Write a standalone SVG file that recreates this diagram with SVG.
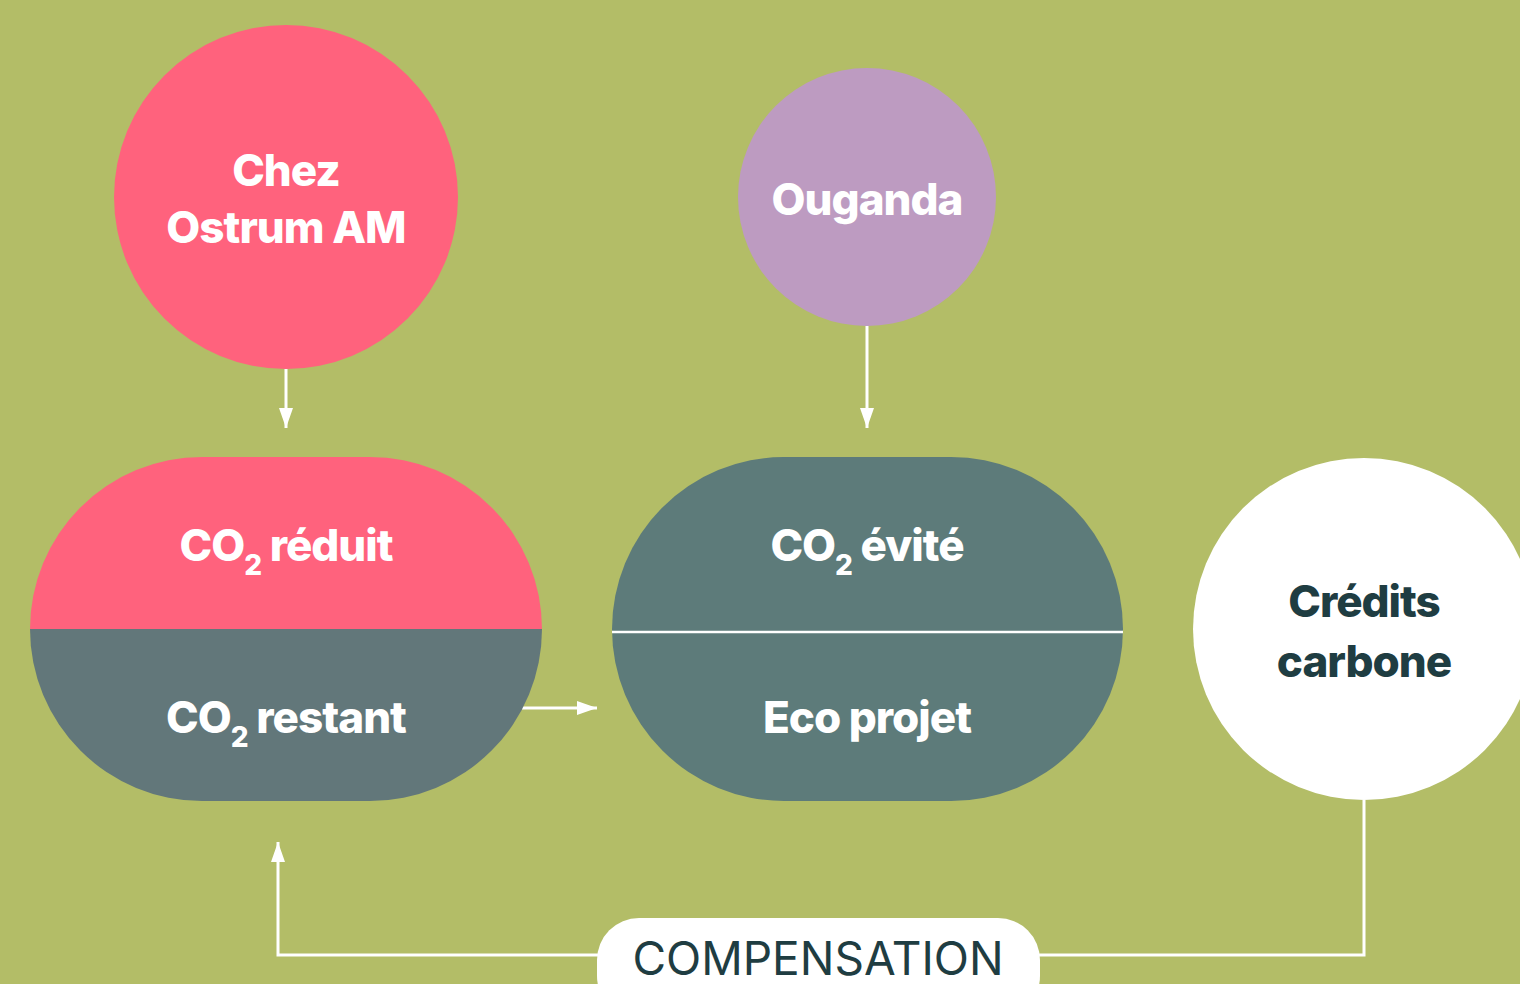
<svg xmlns="http://www.w3.org/2000/svg" width="1520" height="984" viewBox="0 0 1520 984">
<defs>
<style>
.t{font-family:Inter,"Liberation Sans",sans-serif;font-weight:800;font-size:44px;fill:#ffffff;text-anchor:middle;letter-spacing:-1px}
.d{fill:#1f3d42}
.c{fill:none;stroke:#ffffff;stroke-width:3}
.sub{font-size:28px}
</style>
<marker id="av" viewBox="0 0 20 14" refX="20" refY="7" markerWidth="20" markerHeight="14" markerUnits="userSpaceOnUse" orient="auto"><path d="M0,0 L20,7 L0,14 Z" fill="#ffffff"/></marker>
<clipPath id="cl"><rect x="30" y="457" width="512" height="344" rx="172"/></clipPath>
</defs>
<rect width="1520" height="984" fill="#b3bd67"/>
<g id="connectors">
<line class="c" x1="286" y1="369" x2="286" y2="428" marker-end="url(#av)"/>
<line class="c" x1="867" y1="326" x2="867" y2="428" marker-end="url(#av)"/>
<line class="c" x1="522" y1="708" x2="597" y2="708" marker-end="url(#av)"/>
<polyline class="c" points="1364,800 1364,955 278,955 278,842" marker-end="url(#av)"/>
</g>
<g id="chez">
<circle cx="286" cy="197" r="172" fill="#ff627d"/>
<text class="t" x="286" y="186">Chez</text>
<text class="t" x="286" y="243">Ostrum AM</text>
</g>
<g id="ouganda">
<circle cx="867" cy="197" r="129" fill="#bd9bc1"/>
<text class="t" x="867" y="215">Ouganda</text>
</g>
<g id="co2-reduit">
<g clip-path="url(#cl)">
<rect x="30" y="457" width="512" height="172" fill="#ff627d"/>
<rect x="30" y="629" width="512" height="172" fill="#62777a"/>
</g>
<text class="t" x="286" y="561">CO<tspan class="sub" dy="14">2</tspan><tspan dy="-14"> réduit</tspan></text>
<text class="t" x="286" y="733">CO<tspan class="sub" dy="14">2</tspan><tspan dy="-14"> restant</tspan></text>
</g>
<g id="co2-evite">
<rect x="612" y="457" width="511" height="344" rx="172" fill="#5d7b7a"/>
<line x1="612" y1="632" x2="1123" y2="632" stroke="#ffffff" stroke-width="2.5"/>
<text class="t" x="867" y="561">CO<tspan class="sub" dy="14">2</tspan><tspan dy="-14"> évité</tspan></text>
<text class="t" x="867" y="733">Eco projet</text>
</g>
<g id="credits">
<circle cx="1364" cy="629" r="171" fill="#ffffff"/>
<text class="t d" x="1364" y="617">Crédits</text>
<text class="t d" x="1364" y="677">carbone</text>
</g>
<g id="compensation">
<rect x="597" y="918" width="443" height="100" rx="42" fill="#ffffff"/>
<text x="818" y="975" text-anchor="middle" font-family="Inter,'Liberation Sans',sans-serif" font-size="46" fill="#1f3d42">COMPENSATION</text>
</g>
</svg>
